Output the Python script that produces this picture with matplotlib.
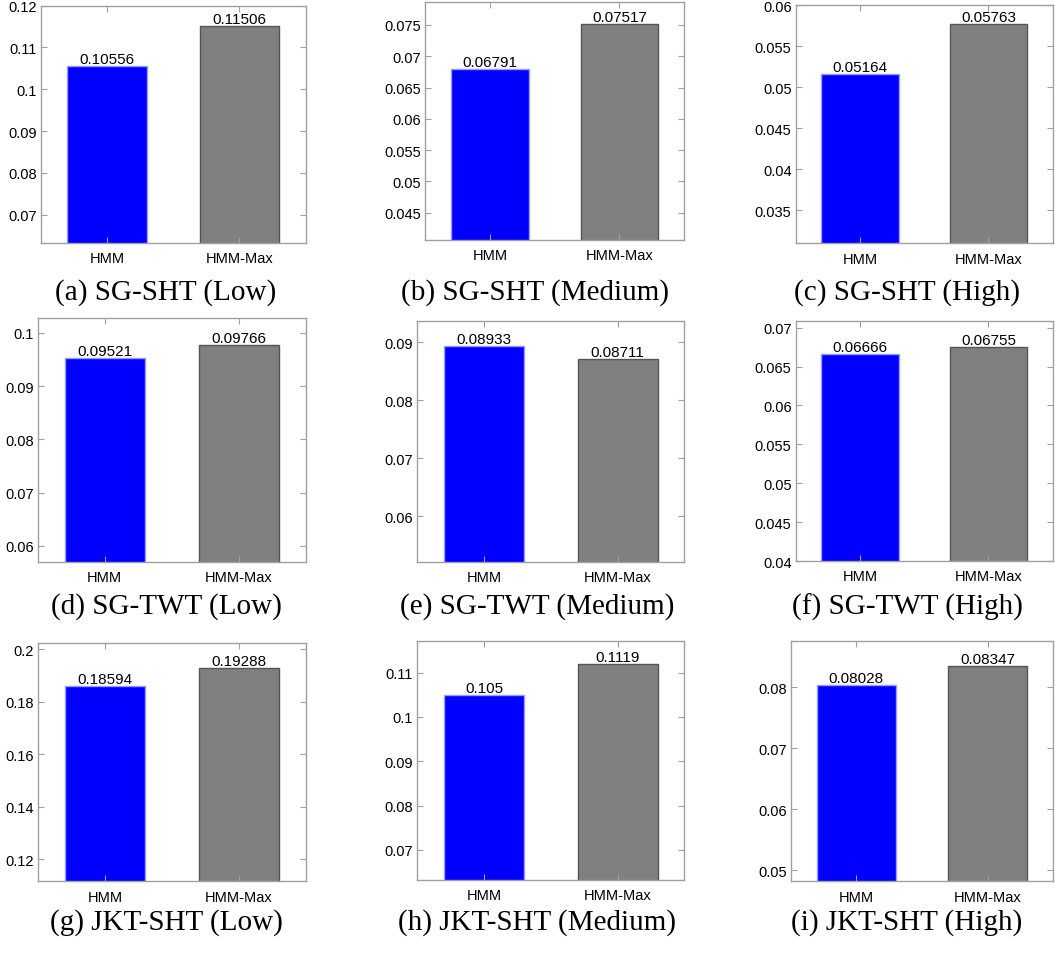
import matplotlib
matplotlib.use('Agg')
import matplotlib.pyplot as plt
from matplotlib.ticker import MultipleLocator, FuncFormatter

# Data
methods = ['HMM', 'HMM-Max']
captions = ['(a) SG-SHT (Low)', '(b) SG-SHT (Medium)', '(c) SG-SHT (High)',
            '(d) SG-TWT (Low)', '(e) SG-TWT (Medium)', '(f) SG-TWT (High)',
            '(g) JKT-SHT (Low)', '(h) JKT-SHT (Medium)', '(i) JKT-SHT (High)']
hmm_vals = [0.10556, 0.06791, 0.05164,
            0.09521, 0.08933, 0.06666,
            0.18594, 0.105, 0.08028]
hmm_max_vals = [0.11506, 0.07517, 0.05763,
                0.09766, 0.08711, 0.06755,
                0.19288, 0.1119, 0.08347]
y_limits = [(0.0632, 0.12), (0.0407, 0.0787), (0.0310, 0.0600),
            (0.0570, 0.1028), (0.0522, 0.0937), (0.0400, 0.0709),
            (0.1116, 0.2022), (0.0632, 0.1172), (0.0482, 0.0875)]
y_steps = [0.01, 0.005, 0.005,
           0.01, 0.01, 0.005,
           0.02, 0.01, 0.01]

# Layout in pixels: left, top, right, bottom of each axes
W, H = 1055, 954
axes_px = [(40.7, 6.7, 305.7, 244), (425, 2.7, 684.3, 240.7), (795.7, 6, 1052.7, 244.3),
           (37.7, 319, 305.7, 562.7), (417.3, 321.7, 684.3, 562.7), (795.7, 321.7, 1052.7, 562),
           (38.3, 644.3, 306, 882.3), (417.3, 641.7, 684.3, 881), (790.7, 642.3, 1053.3, 882.3)]
caption_px = [(166, 293), (535, 293), (907, 293),
              (166, 607), (537, 607), (907, 607),
              (166, 923), (537, 923), (907, 923)]

SANS = 'Liberation Sans'
SERIF = 'Liberation Serif'
FRAME = '#a0a0a0'
COLORS = ['#0000ff', '#808080']
EDGES = ['#9a9aff', '#555555']

fig = plt.figure(figsize=(W / 100, H / 100), dpi=100)

for k in range(9):
    l, t, r, b = axes_px[k]
    ax = fig.add_axes([l / W, 1 - b / H, (r - l) / W, (b - t) / H])
    vals = [hmm_vals[k], hmm_max_vals[k]]
    xs = [1, 2]
    ax.bar(xs, vals, width=0.6, color=COLORS, edgecolor=EDGES, linewidth=1)
    for x, v in zip(xs, vals):
        ax.text(x, v, f'{v:g}', ha='center', va='bottom', fontsize=11,
                family=SANS)

    ax.set_xlim(0.5, 2.5)
    ax.set_ylim(*y_limits[k])
    ax.set_xticks(xs)
    ax.set_xticklabels(methods, fontsize=10.5, family=SANS)
    ax.yaxis.set_major_locator(MultipleLocator(y_steps[k]))
    ax.yaxis.set_major_formatter(FuncFormatter(lambda v, p: f'{v:g}'))
    for lbl in ax.get_yticklabels():
        lbl.set_family(SANS)
        lbl.set_fontsize(10.5)
    ax.tick_params(axis='y', direction='in', length=4, color=FRAME, right=True,
                   pad=3)
    ax.tick_params(axis='x', direction='in', length=4, color=FRAME, top=True,
                   pad=6)
    for s in ax.spines.values():
        s.set_color(FRAME)
        s.set_linewidth(1)

    cx, cy = caption_px[k]
    fig.text(cx / W, 1 - cy / H, captions[k], ha='center', va='center',
             fontsize=21, family=SERIF)

fig.savefig('out.png', dpi=100)
